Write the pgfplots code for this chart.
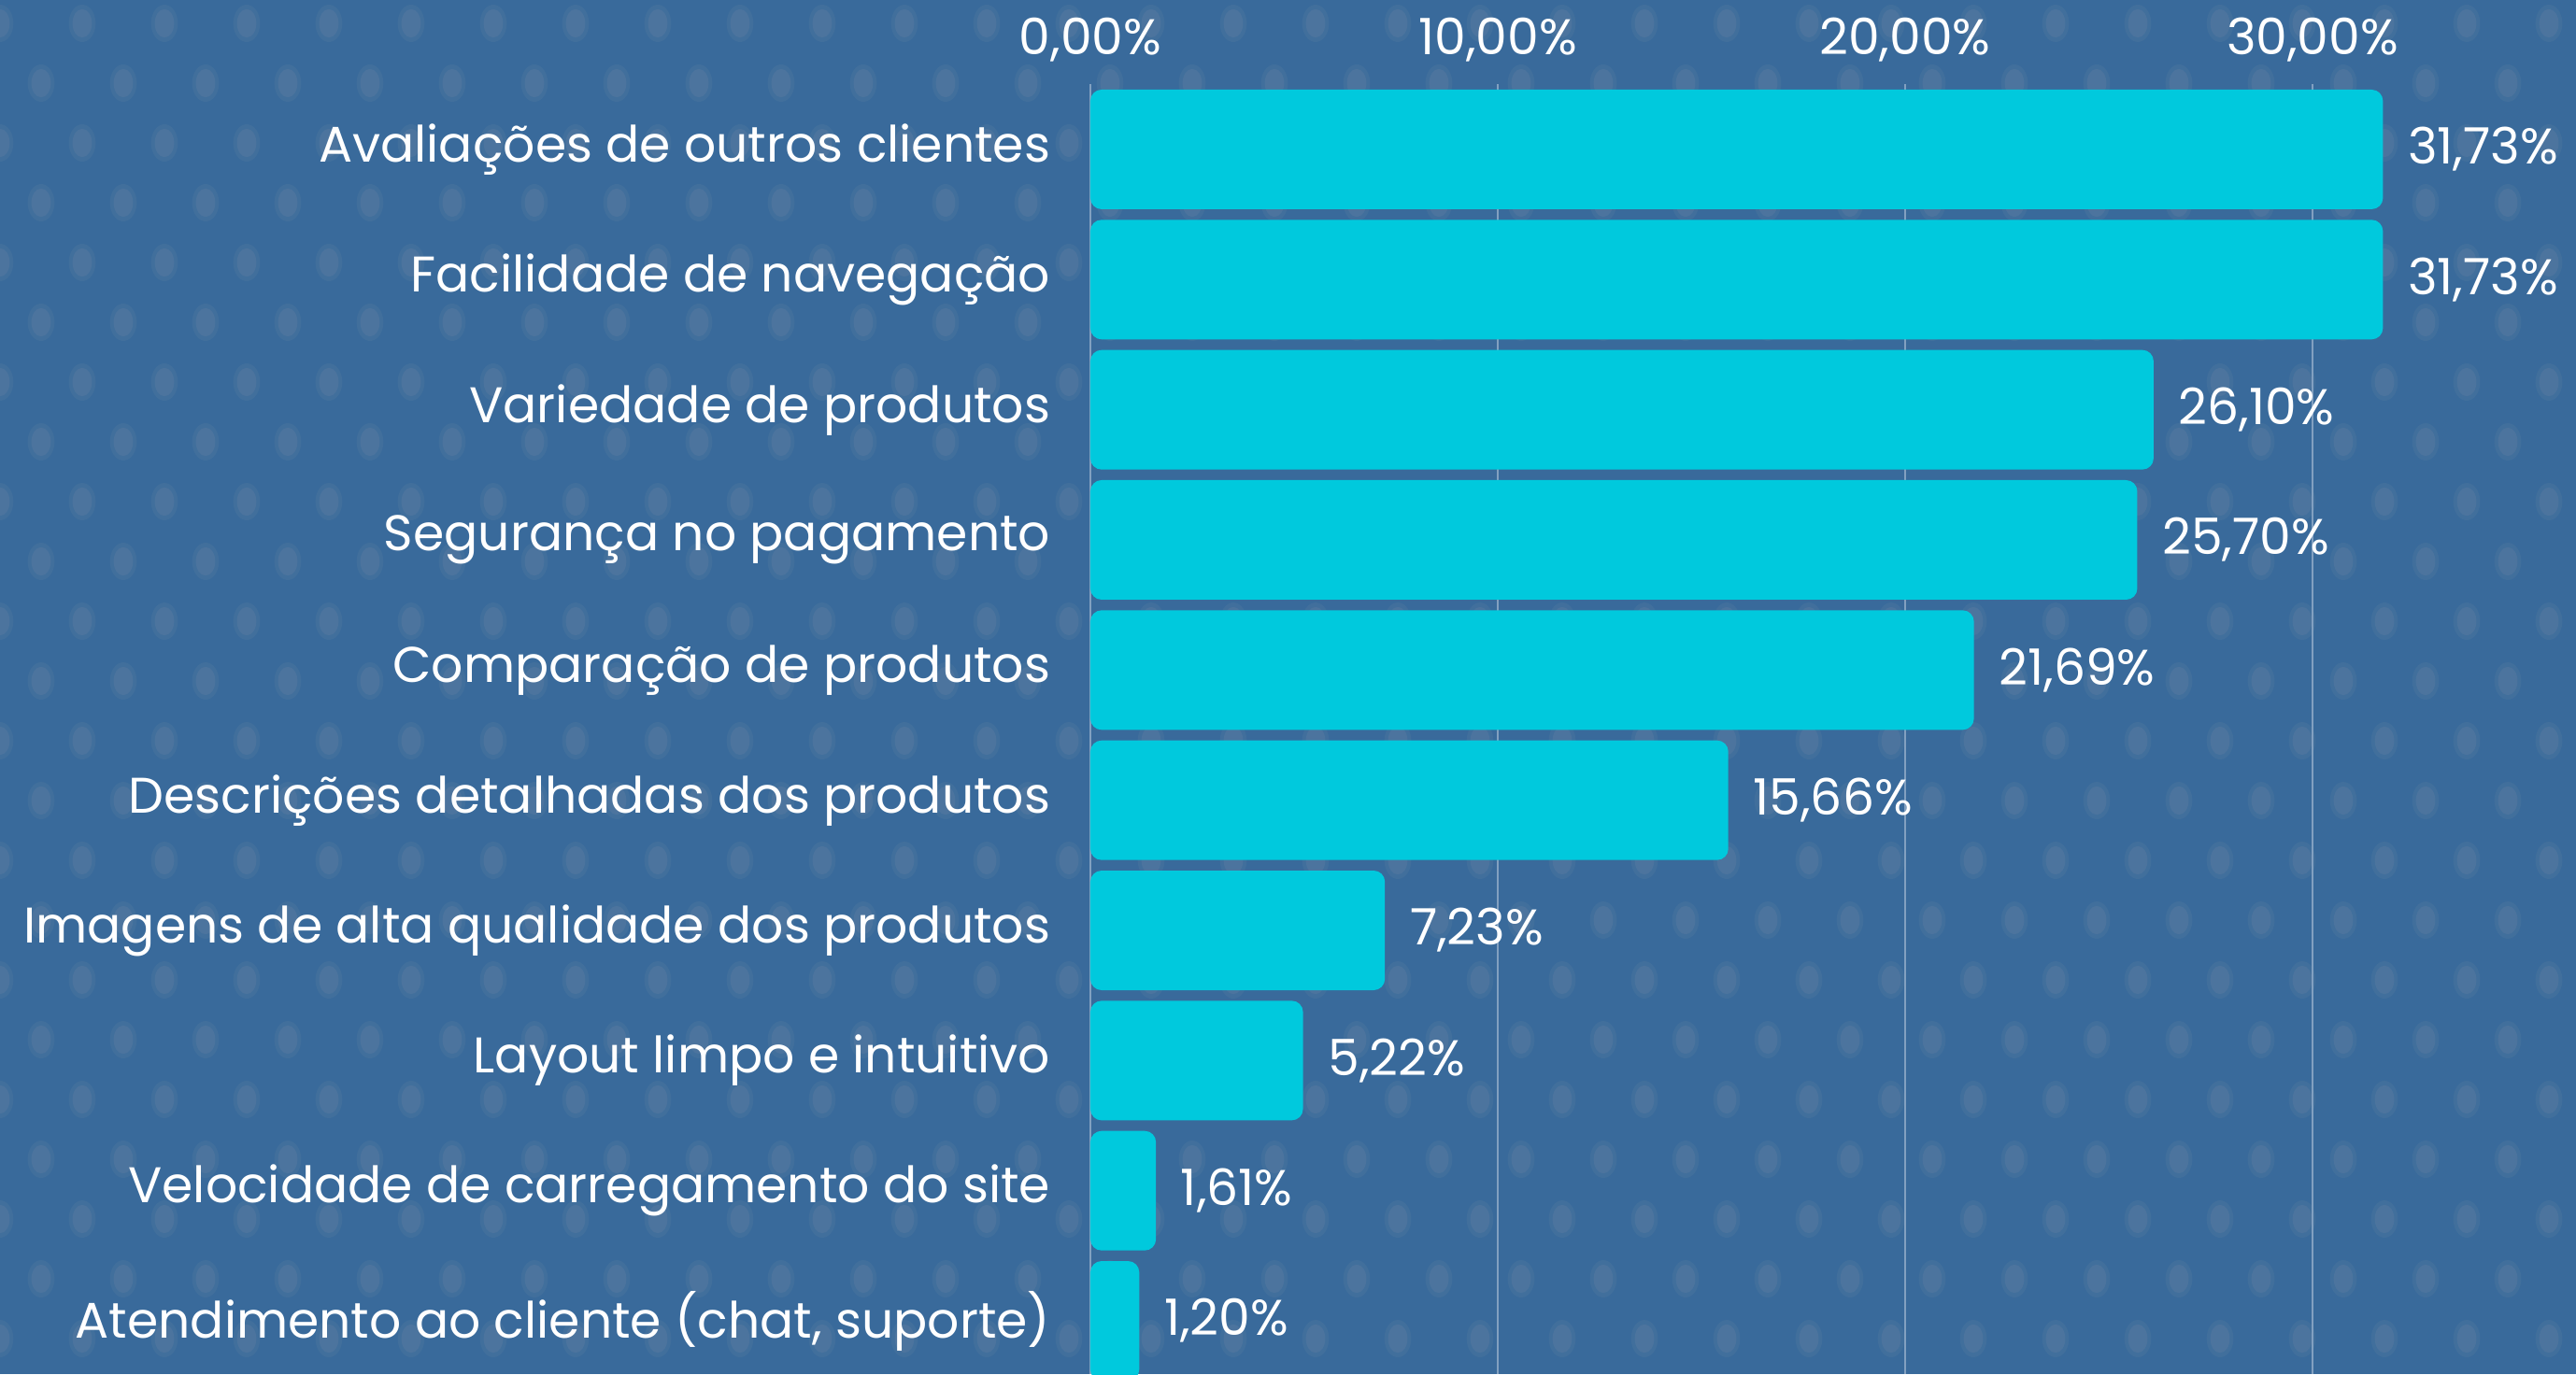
\documentclass[border=0pt]{standalone}
\usepackage{fontspec}
\setmainfont{Poppins}
\usepackage{pgfplots}
\pgfplotsset{compat=1.18}

\definecolor{bg}{RGB}{57,106,155}
\definecolor{dotc}{RGB}{76,116,158}
\definecolor{dotsoft}{RGB}{65,111,156}
\definecolor{barc}{RGB}{0,201,221}
\definecolor{gridc}{RGB}{130,160,192}

% y: 9 = top row, 0 = bottom row
\pgfplotstableread{
y v
9 31.73
8 31.73
7 26.10
6 25.70
5 21.69
4 15.66
3 7.23
2 5.22
1 1.61
0 1.20
}\data

\begin{document}
\begin{tikzpicture}
    % page = 689.25pt x 367.75pt, axis origin at lower left of plot area
    \path[use as bounding box] (-291.75pt,0) rectangle (397.5pt,367.75pt);

    % background with dot pattern
    \begin{scope}
        \clip (-291.75pt,0) rectangle (397.5pt,367.75pt);
        \fill[bg] (-291.75pt,0) rectangle (397.5pt,367.75pt);
        \foreach \r in {0,...,23} {
            \foreach \c in {0,...,32} {
                \pgfmathsetmacro\xx{-291.75 + \c*22 + mod(\r,2)*11}
                \pgfmathsetmacro\yy{361.5 - \r*16}
                \fill[dotsoft] (\xx pt,\yy pt) ellipse (3.6pt and 5pt);
                \fill[dotc] (\xx pt,\yy pt) ellipse (2.6pt and 3.8pt);
            }
        }
    \end{scope}

    \begin{axis}[
        at={(0,0)}, anchor=south west,
        scale only axis,
        width=397.5pt, height=345.25pt,
        xmin=0, xmax=36.47,
        ymin=-0.409, ymax=9.502,
        xbar, bar width=32pt,
        axis line style={draw=none},
        major tick length=0pt,
        /pgf/number format/assume math mode=true,
        xtick={0,10,20,30},
        xticklabel pos=right,
        xticklabel={\pgfmathprintnumber[fixed,fixed zerofill,precision=2,use comma]{\tick}\%},
        xticklabel style={anchor=base, inner sep=0pt, yshift=8pt},
        xmajorgrids,
        grid style={gridc, line width=0.4pt},
        ytick={0,...,9},
        yticklabels={
            {Atendimento ao cliente (chat, suporte)},
            {Velocidade de carregamento do site},
            {Layout limpo e intuitivo},
            {Imagens de alta qualidade dos produtos},
            {Descrições detalhadas dos produtos},
            {Comparação de produtos},
            {Segurança no pagamento},
            {Variedade de produtos},
            {Facilidade de navegação},
            {Avaliações de outros clientes}
        },
        yticklabel style={anchor=east, inner sep=0pt, xshift=-10.5pt},
        ticklabel style={white, font=\fontsize{13.4}{15}\selectfont},
        point meta=x,
        nodes near coords={\pgfmathprintnumber[fixed,fixed zerofill,precision=2,use comma,assume math mode=true]{\pgfplotspointmeta}\%},
        nodes near coords style={white, anchor=west, inner sep=0pt, xshift=6.5pt,
            font=\fontsize{13.4}{15}\selectfont},
    ]
        \addplot[draw=none, fill=barc, rounded corners=3pt] table[x=v, y=y] {\data};
    \end{axis}
\end{tikzpicture}
\end{document}
